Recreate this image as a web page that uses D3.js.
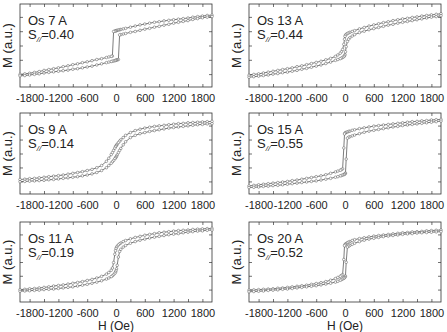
<!DOCTYPE html>
<html>
<head>
<meta charset="utf-8">
<script src="https://cdn.jsdelivr.net/npm/d3@7"></script>
<style>
  body { margin: 0; background: #fff; }
  svg { display: block; font-family: "Liberation Sans", Arial, Helvetica, sans-serif; }
</style>
</head>
<body>
<svg id="chart" width="447" height="332"></svg>
<script>
// applied field (Oe), shared by both branches, swept from +2000 to -2000
const fieldOe = [2000,1900,1800,1700,1600,1500,1400,1300,1200,1100,1000,900,800,700,600,500,400,300,200,150,
  100,75,50,25,10,0,-10,-25,-50,-75,-100,-150,-200,-300,-400,-500,-600,-700,-800,-900,
  -1000,-1100,-1200,-1300,-1400,-1500,-1600,-1700,-1800,-1900,-2000];

const sampleNames = ["Os 7 A", "Os 13 A", "Os 9 A", "Os 15 A", "Os 11 A", "Os 20 A"];
const sParallel = ["0.40", "0.44", "0.14", "0.55", "0.19", "0.52"];

const hTicks = [-1800,-1500,-1200,-900,-600,-300,0,300,600,900,1200,1500,1800];
const hTickLabels = [-1800,-1200,-600,0,600,1200,1800];
const mTicks = [-1,-0.5,0,0.5,1];

// magnetisation (a.u.) : branch with field decreasing / increasing, same order as fieldOe
const mDown7 = [1.06,1.05,1.03,1.01,0.99,0.96,0.94,0.92,0.90,0.88,0.86,0.83,0.81,0.78,0.75,0.72,0.68,0.64,0.60,0.58,
  0.56,0.55,0.54,0.53,0.52,0.52,0.51,0.50,0.49,-0.37,-0.38,-0.40,-0.42,-0.46,-0.49,-0.53,-0.57,-0.60,-0.64,-0.67,
  -0.71,-0.74,-0.78,-0.81,-0.84,-0.87,-0.91,-0.94,-0.97,-0.99,-1.01];
const mUp7 = [1.01,0.99,0.97,0.94,0.91,0.87,0.84,0.81,0.78,0.74,0.71,0.67,0.64,0.60,0.57,0.53,0.49,0.46,0.42,0.40,
  0.38,0.37,-0.49,-0.50,-0.51,-0.52,-0.52,-0.53,-0.54,-0.55,-0.56,-0.58,-0.60,-0.64,-0.68,-0.72,-0.75,-0.78,-0.81,-0.83,
  -0.86,-0.88,-0.90,-0.92,-0.94,-0.96,-0.99,-1.01,-1.03,-1.05,-1.06];

const mDown13 = [1.11,1.09,1.07,1.05,1.03,1.00,0.98,0.95,0.93,0.90,0.87,0.83,0.80,0.76,0.72,0.68,0.63,0.58,0.52,0.49,
  0.46,0.44,0.42,0.39,0.36,0.32,0.22,0.04,-0.14,-0.22,-0.27,-0.33,-0.38,-0.45,-0.50,-0.55,-0.59,-0.63,-0.67,-0.71,
  -0.74,-0.78,-0.81,-0.84,-0.87,-0.90,-0.93,-0.96,-0.99,-1.01,-1.04];
const mUp13 = [1.04,1.01,0.99,0.96,0.93,0.90,0.87,0.84,0.81,0.78,0.74,0.71,0.67,0.63,0.59,0.55,0.50,0.45,0.38,0.33,
  0.27,0.22,0.14,-0.04,-0.22,-0.32,-0.36,-0.39,-0.42,-0.44,-0.46,-0.49,-0.52,-0.58,-0.63,-0.68,-0.72,-0.76,-0.80,-0.83,
  -0.87,-0.90,-0.93,-0.95,-0.98,-1.00,-1.03,-1.05,-1.07,-1.09,-1.11];

const mDown9 = [1.15,1.14,1.13,1.12,1.11,1.10,1.08,1.07,1.05,1.03,1.01,0.99,0.97,0.94,0.91,0.87,0.82,0.75,0.65,0.57,
  0.49,0.44,0.39,0.33,0.30,0.27,0.24,0.19,0.11,0.03,-0.04,-0.17,-0.28,-0.43,-0.51,-0.57,-0.61,-0.65,-0.68,-0.71,
  -0.74,-0.77,-0.79,-0.81,-0.83,-0.85,-0.87,-0.89,-0.90,-0.92,-0.93];
const mUp9 = [1.07,1.06,1.04,1.03,1.01,0.99,0.97,0.95,0.93,0.91,0.88,0.85,0.82,0.79,0.75,0.71,0.65,0.57,0.42,0.31,
  0.18,0.11,0.03,-0.05,-0.10,-0.13,-0.16,-0.19,-0.25,-0.30,-0.35,-0.43,-0.51,-0.61,-0.68,-0.73,-0.77,-0.80,-0.83,-0.85,
  -0.87,-0.89,-0.91,-0.93,-0.94,-0.96,-0.97,-0.98,-0.99,-1.00,-1.01];

const mDown15 = [1.22,1.21,1.20,1.18,1.17,1.15,1.14,1.12,1.10,1.08,1.06,1.04,1.02,1.00,0.98,0.95,0.92,0.89,0.85,0.83,
  0.80,0.79,0.77,0.76,0.74,0.73,0.70,0.20,-0.55,-0.58,-0.60,-0.63,-0.66,-0.71,-0.76,-0.80,-0.83,-0.86,-0.89,-0.92,
  -0.95,-0.97,-1.00,-1.02,-1.04,-1.06,-1.08,-1.10,-1.12,-1.14,-1.16];
const mUp15 = [1.16,1.14,1.12,1.10,1.08,1.06,1.04,1.02,1.00,0.97,0.95,0.92,0.89,0.86,0.83,0.80,0.76,0.71,0.66,0.63,
  0.60,0.58,0.55,-0.20,-0.70,-0.73,-0.74,-0.76,-0.77,-0.79,-0.80,-0.83,-0.85,-0.89,-0.92,-0.95,-0.98,-1.00,-1.02,-1.04,
  -1.06,-1.08,-1.10,-1.12,-1.14,-1.15,-1.17,-1.18,-1.20,-1.21,-1.22];

const mDown11 = [1.22,1.21,1.20,1.19,1.18,1.16,1.15,1.14,1.12,1.10,1.08,1.06,1.03,1.00,0.97,0.93,0.89,0.84,0.78,0.74,
  0.69,0.66,0.62,0.57,0.53,0.48,0.41,0.28,-0.02,-0.22,-0.30,-0.38,-0.44,-0.52,-0.58,-0.63,-0.67,-0.71,-0.74,-0.77,
  -0.80,-0.83,-0.85,-0.87,-0.90,-0.92,-0.94,-0.96,-0.97,-0.99,-1.00];
const mUp11 = [1.16,1.15,1.13,1.12,1.10,1.08,1.06,1.03,1.01,0.99,0.96,0.93,0.90,0.87,0.83,0.79,0.74,0.68,0.60,0.54,
  0.46,0.38,0.18,-0.12,-0.25,-0.32,-0.37,-0.41,-0.46,-0.50,-0.53,-0.58,-0.62,-0.68,-0.73,-0.77,-0.81,-0.84,-0.87,-0.90,
  -0.92,-0.94,-0.96,-0.98,-0.99,-1.00,-1.02,-1.03,-1.04,-1.05,-1.06];

const mDown20 = [1.16,1.15,1.14,1.13,1.11,1.10,1.09,1.07,1.06,1.04,1.02,1.00,0.98,0.96,0.94,0.91,0.88,0.85,0.81,0.78,
  0.74,0.72,0.70,0.67,0.65,0.63,0.59,0.09,-0.46,-0.49,-0.52,-0.56,-0.60,-0.66,-0.71,-0.75,-0.78,-0.81,-0.84,-0.86,
  -0.88,-0.90,-0.92,-0.94,-0.95,-0.97,-0.98,-0.99,-1.00,-1.01,-1.02];
const mUp20 = [1.10,1.09,1.08,1.07,1.06,1.05,1.03,1.02,1.00,0.98,0.96,0.94,0.92,0.89,0.86,0.83,0.79,0.74,0.68,0.64,
  0.60,0.57,0.54,-0.01,-0.51,-0.55,-0.57,-0.59,-0.62,-0.64,-0.66,-0.70,-0.73,-0.77,-0.80,-0.83,-0.86,-0.88,-0.90,-0.92,
  -0.94,-0.96,-0.98,-0.99,-1.01,-1.02,-1.03,-1.05,-1.06,-1.07,-1.08];

const branchesDown = [mDown7, mDown13, mDown9, mDown15, mDown11, mDown20];
const branchesUp = [mUp7, mUp13, mUp9, mUp15, mUp11, mUp20];

/* layout */
const colLeft = [20, 249];
const rowTop = [4, 113, 222];
const rowHeight = [83, 81, 80];
const panelW = 192;
const ink = "#333";

const svg = d3.select("#chart");

sampleNames.forEach((name, i) => {
  const col = i % 2, row = Math.floor(i / 2);
  const left = colLeft[col], top = rowTop[row], h = rowHeight[row];

  const x = d3.scaleLinear().domain([-2000, 2000]).range([left, left + panelW]);
  const y = d3.scaleLinear().domain([-1.45, 1.45]).range([top + h, top]);

  const g = svg.append("g");

  // axes: ticks pointing inward on all four sides
  const fmt = d => hTickLabels.includes(d) ? String(d) : "";
  const axes = [
    g.append("g").attr("transform", `translate(0,${top + h})`)
      .call(d3.axisBottom(x).tickValues(hTicks).tickSize(-3).tickPadding(7).tickFormat(fmt)),
    g.append("g").attr("transform", `translate(0,${top})`)
      .call(d3.axisTop(x).tickValues(hTicks).tickSize(-3).tickFormat("")),
    g.append("g").attr("transform", `translate(${left},0)`)
      .call(d3.axisLeft(y).tickValues(mTicks).tickSize(-3).tickFormat("")),
    g.append("g").attr("transform", `translate(${left + panelW},0)`)
      .call(d3.axisRight(y).tickValues(mTicks).tickSize(-3).tickFormat(""))
  ];
  axes.forEach(a => {
    a.select(".domain").remove();
    a.selectAll(".tick line").attr("stroke", ink).attr("stroke-width", 0.7);
    a.selectAll(".tick text").attr("fill", "#222").attr("font-size", 11)
      .attr("font-family", "'Liberation Sans', Arial, sans-serif");
  });

  g.append("rect")
    .attr("x", left).attr("y", top).attr("width", panelW).attr("height", h)
    .attr("fill", "none").attr("stroke", ink).attr("stroke-width", 0.8);

  // loop branches
  const line = d3.line().x(d => x(d[0])).y(d => y(d[1]));
  [branchesDown[i], branchesUp[i]].forEach(branch => {
    const pts = fieldOe.map((hv, k) => [hv, branch[k]]);
    g.append("path").datum(pts)
      .attr("d", line).attr("fill", "none")
      .attr("stroke", "#444").attr("stroke-width", 0.7);
    g.selectAll(null).data(pts).join("circle")
      .attr("cx", d => x(d[0])).attr("cy", d => y(d[1])).attr("r", 1.3)
      .attr("fill", "#fff").attr("stroke", "#555").attr("stroke-width", 0.5);
  });

  // sample labels
  g.append("text").attr("x", left + 8).attr("y", top + 21)
    .attr("font-size", 13).attr("fill", "#222").text(name);
  const s = g.append("text").attr("x", left + 8).attr("y", top + 35)
    .attr("font-size", 13).attr("fill", "#222");
  s.append("tspan").text("S");
  s.append("tspan").attr("font-size", 8).attr("font-style", "italic").attr("dy", 3).text("//");
  s.append("tspan").attr("dy", -3).text("=" + sParallel[i]);

  // y label
  g.append("text")
    .attr("transform", `translate(${left - 8},${top + h / 2}) rotate(-90)`)
    .attr("text-anchor", "middle").attr("font-size", 13).attr("fill", "#222")
    .text("M (a.u.)");

  // x label at the bottom edge
  if (row === 2) {
    g.append("text").attr("x", left + panelW / 2).attr("y", 330)
      .attr("text-anchor", "middle").attr("font-size", 12).attr("fill", "#222")
      .text("H (Oe)");
  }
});
</script>
</body>
</html>
